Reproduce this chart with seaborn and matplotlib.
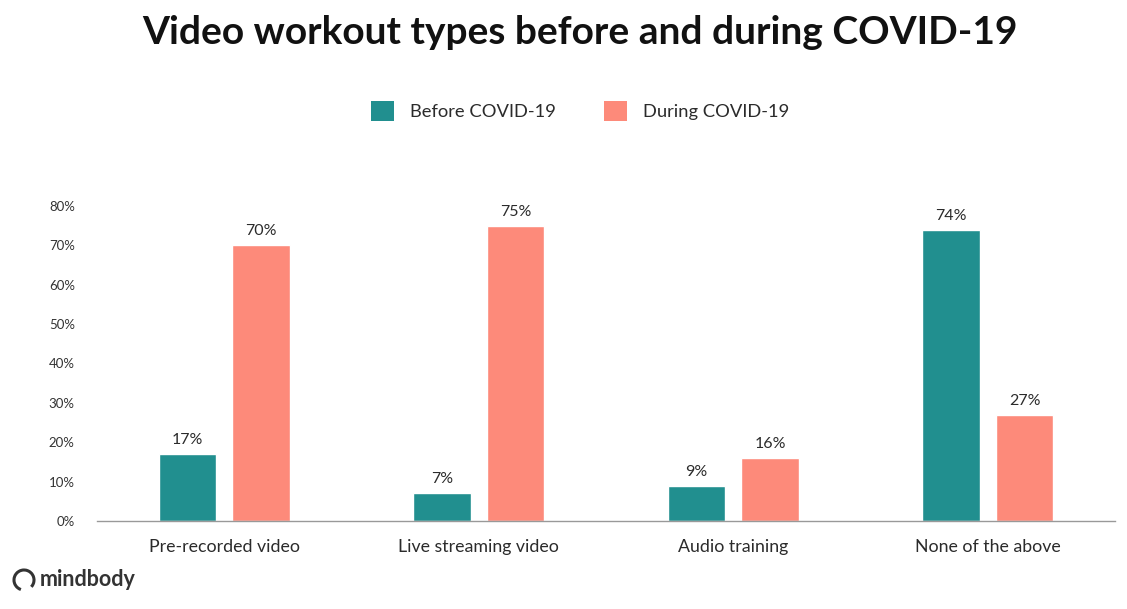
import matplotlib
matplotlib.use("Agg")
import matplotlib.pyplot as plt
from matplotlib.patches import Arc, Patch
import seaborn as sns
import pandas as pd

categories = ["Pre-recorded video", "Live streaming video", "Audio training", "None of the above"]
before = [17, 7, 9, 74]
during = [70, 75, 16, 27]
series_names = ["Before COVID-19", "During COVID-19"]
yticks = [0, 10, 20, 30, 40, 50, 60, 70, 80]

df = pd.DataFrame({
    "category": categories * 2,
    "value": before + during,
    "series": [series_names[0]] * 4 + [series_names[1]] * 4,
})

sns.set_theme(style="white")
plt.rcParams["font.family"] = ["Lato", "DejaVu Sans"]

TEAL = "#218f8f"
CORAL = "#fd8a7a"
TXT = "#2b2b2b"

W, H = 1127, 609
fig = plt.figure(figsize=(W / 100, H / 100), dpi=100)
ax = fig.add_axes([97 / W, 88 / H, (1115 - 97) / W, (521 - 206) / H])

sns.barplot(data=df, x="category", y="value", hue="series", order=categories,
            hue_order=series_names, palette=[TEAL, CORAL], width=0.578, gap=0.218,
            saturation=1, ax=ax, legend=False)

ax.set_xlim(-0.5, 3.5)
ax.set_ylim(0, 80)
ax.set_yticks(yticks)
ax.set_yticklabels([f"{t}%" for t in yticks], fontsize=9.5, color="#333333")
ax.set_xlabel("")
ax.set_ylabel("")
ax.tick_params(axis="x", length=0, pad=13, labelsize=12.8, labelcolor=TXT)
ax.tick_params(axis="y", length=0, pad=16)
for lab in ax.get_yticklabels():
    lab.set_horizontalalignment("right")
for s in ["top", "right", "left"]:
    ax.spines[s].set_visible(False)
ax.spines["bottom"].set_color("#999999")
ax.spines["bottom"].set_linewidth(1)
ax.grid(False)

for cont in ax.containers:
    ax.bar_label(cont, labels=[f"{v:.0f}%" for v in cont.datavalues], padding=5,
                 fontsize=11.5, color=TXT)

fig.text(580 / W, 1 - 32 / H, "Video workout types before and during COVID-19",
         ha="center", va="center", fontsize=28, fontweight="bold", color="#111111")

handles = [Patch(facecolor=TEAL, edgecolor="none"), Patch(facecolor=CORAL, edgecolor="none")]
fig.legend(handles, series_names, loc="center", bbox_to_anchor=(580 / W, 1 - 111 / H),
           ncol=2, frameon=False, fontsize=13.2, handlelength=1.25, handleheight=1.25,
           handletextpad=0.9, columnspacing=2.6, labelcolor=TXT)

# logo
cx, cy, r = 24 / W, 1 - 580 / H, 10
fig.add_artist(Arc((cx, cy), 2 * r / W, 2 * r / H, theta1=-60, theta2=260,
                   transform=fig.transFigure, color="#333333", lw=2.2))
fig.text(40 / W, 1 - 580 / H, "mindbody", ha="left", va="center", fontsize=15.5,
         fontweight="bold", color="#333333")

fig.savefig("out.png", dpi=100, facecolor="white")
